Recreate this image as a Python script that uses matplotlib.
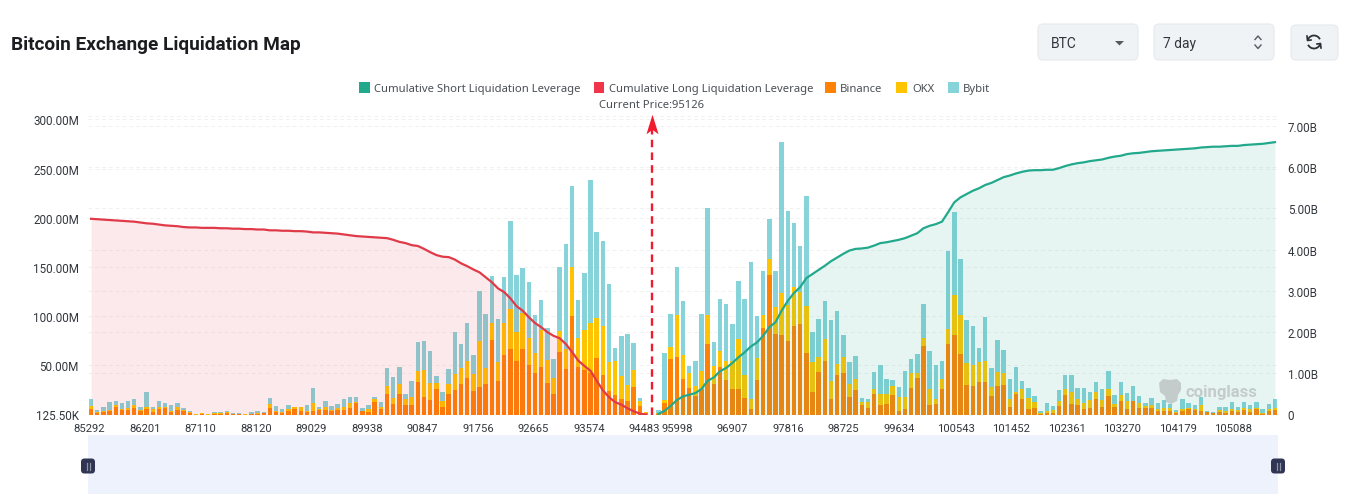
import numpy as np
import matplotlib
matplotlib.use("Agg")
import matplotlib.pyplot as plt
from matplotlib.patches import FancyBboxPatch, Rectangle, Polygon, Arc
from matplotlib.path import Path
from matplotlib.transforms import blended_transform_factory, ScaledTranslation

# Stack heights per price bucket, in millions of USD
binance = [
    5.4,2,2.7,3.4,7.8,4.4,4.7,6.8,3.4,5.4,2.7,6,6.8,2.7,5,3.4,1.4,.1,.7,.1,.7,.7,1.7,.3,.3,.1,.3,.7,1.4,7,
    2.7,2,3.4,5.4,3.4,2.7,3.7,4.7,4.7,4,4.7,4.4,7,11.5,3.4,2.7,12.9,5.4,21.4,11,21.4,9.5,10,33,17.6,15,26.4,7.5,20.7,24.7,
    31.5,37.6,24,28.5,30.8,76,34,61,67,55,66.4,50,42.4,48.8,32,21.4,64,46.4,100.7,48,45,42.4,58,40,23.7,20.3,15.6,13.9,28.5,8.8,
    1.4,0,1,12.2,57,58.6,36,27.5,18.6,26.5,71.5,31.5,48.5,35.6,26.5,25.8,17.3,5.4,35,88.5,142,81.7,80.7,75,90,92.5,63,23,43.4,55,
    15.6,40,42.7,17.6,25.4,9.5,6.8,21.4,9.5,11.2,19.7,3.7,5.4,27.5,37.6,69.5,9.5,10.5,26.4,72,81,61.7,30,28.8,33,33.6,19.3,28.8,30,8,
    21,16,5.4,6.4,.7,1.4,1.7,9,20,10.8,10,5.4,6.8,16,8,19,8,14,5.8,13.6,6.4,6.8,6.8,3.4,4,3.7,1.7,4,5.4,4.7,
    4,2.4,1.4,3,2,3.7,3,4.7,3,6,1,4,5,
]
okx_top = [
    8.5,2.7,3.4,4.4,9.5,6,6.8,10,4.4,7.8,5.4,7.5,7.8,4,7.5,4.4,2.7,.2,1.4,.2,1.4,1.4,2.7,.7,.7,.2,.7,2,2,11,
    3.4,2.7,5.4,7.8,7.5,4,12.2,5.4,8,5,6.8,8,12,12.9,4,6,15.6,7.8,28.8,17,31.5,15.6,18,44.7,45.4,32.5,32.5,13.6,31,41.4,
    47.8,55,41.4,75,47.5,93,53,93,107,83.7,103.7,78,63,85.8,55.6,37,84.7,67,150,77.6,85.8,93,98,90,53,55,39,29.8,45,13.6,
    2.7,0,2,14.6,68.8,101.7,61,42.7,29,44,101,49,65,55,55,77,40.7,16.3,57.6,101.7,158,109.5,124,111,130,124.8,110,53,58.6,77,
    34,51,58.6,31,36,13,13,26.4,20.7,20.7,28.8,17.6,17.6,42.7,42.7,78,26.4,15.6,36.6,87,122,101,52.5,50.8,53,54.6,28.5,43.7,42.4,16,
    23.4,26,17.3,13.2,1.7,3.4,4.4,14.2,26,22.7,16,11.9,15.3,23.4,15.3,26,10.5,20,13.6,14.2,11.5,9,10,5.8,6.4,6.8,3,5.4,6.8,5.8,
    10,3,2,4.4,3.7,5.8,4.7,6.8,5.4,6.8,1.7,5.4,6.8,
]
bybit_top = [
    16,5,7.8,12.9,13.9,12.2,13.6,15.6,7.8,23,8,13.9,12.2,9.5,12.2,6.8,4,.3,2,.3,3,2.4,4,1.7,1.7,.3,2.7,4,2.7,16.6,
    8.8,6,9.5,8,8,10,27,7.5,14,8.8,10.8,16,17.6,18.3,7,9.5,17.6,12.9,47.5,38,48.8,21.4,34.6,74,75,65,39.7,23,46.8,84,
    71.5,93.6,61,125.8,102,141,97.6,140,197,141.7,149.5,135,101.7,116,88,56.6,150,173,232,116,144,238.7,185.8,176,133,67.8,80,82,73,17,
    3,0,5,62.7,102.7,150,115,49,54,102,210,74,118,112.5,92.5,135.6,117.6,155.6,100,146.4,199,146,277,206.8,195,171.5,222,83.7,97.6,115,
    96,105.8,81,53.6,59.7,17,16.3,43.4,50.8,36.6,35.6,28.5,44.4,56.3,61.7,112.9,64.4,50.8,55,166,206,158,96,90.5,67.5,99,47.5,76,66,36.3,
    48.5,34.6,26.8,19,3.4,11.9,8.8,24.7,40,40,27.5,27.5,22.7,33.6,26,44.4,20,33,22.4,28.8,18.6,11.9,17,11.9,14.6,10.8,4.7,16,12,10,
    17.6,4,2.7,7.8,7.8,12.5,7.8,13,10,12.9,5.4,10.5,15.6,
]

# Cumulative leverage on each side of the current price, in billions of USD
long_cum = [
    4.75,4.74,4.73,4.72,4.71,4.70,4.69,4.68,4.66,4.64,4.63,4.61,4.59,4.58,4.57,4.55,4.54,4.54,4.53,4.53,
    4.53,4.52,4.52,4.51,4.51,4.50,4.50,4.49,4.49,4.47,4.47,4.46,4.46,4.45,4.45,4.44,4.42,4.42,4.41,4.40,
    4.39,4.37,4.35,4.33,4.32,4.31,4.30,4.29,4.28,4.24,4.19,4.16,4.11,4.09,4.02,3.94,3.87,3.83,3.82,3.76,
    3.67,3.60,3.52,3.45,3.33,3.21,3.06,2.97,2.82,2.63,2.52,2.36,2.22,2.12,2.00,1.91,1.85,1.71,1.52,1.31,
    1.18,1.06,.82,.59,.42,.30,.24,.15,.08,.02,0,
]
short_cum = [
    .01,.09,.21,.35,.44,.48,.52,.62,.82,.90,1.05,1.13,1.25,1.39,1.51,1.65,1.75,1.91,2.12,2.24,
    2.52,2.76,2.95,3.09,3.31,3.41,3.51,3.61,3.72,3.81,3.90,3.98,4.02,4.03,4.05,4.10,4.16,4.18,4.21,4.24,
    4.28,4.34,4.40,4.52,4.58,4.62,4.68,4.91,5.15,5.27,5.35,5.43,5.49,5.57,5.62,5.69,5.76,5.80,5.85,5.89,
    5.92,5.93,5.93,5.94,5.94,5.98,6.03,6.07,6.10,6.12,6.15,6.17,6.19,6.23,6.26,6.28,6.32,6.34,6.35,6.37,
    6.39,6.40,6.41,6.42,6.43,6.44,6.45,6.46,6.48,6.49,6.50,6.50,6.51,6.52,6.52,6.54,6.55,6.56,6.57,6.59,6.61,
]

tick_prices = ["85292","86201","87110","88120","89029","89938","90847","91756","92665","93574","94483",
               "95998","96907","97816","98725","99634","100543","101452","102361","103270","104179","105088"]
left_ticks = [0.1255, 50, 100, 150, 200, 250, 300]
left_labels = ["125.50K", "50.00M", "100.00M", "150.00M", "200.00M", "250.00M", "300.00M"]
right_ticks = [0, 1, 2, 3, 4, 5, 6, 7]
right_labels = ["0", "1.00B", "2.00B", "3.00B", "4.00B", "5.00B", "6.00B", "7.00B"]
current_price = 95126
current_slot = 91

ORANGE, YELLOW, TEAL = "#ff8205", "#ffc400", "#86d3d9"
RED, GREEN = "#e03a48", "#22a98c"
INK = "#33373d"
W, H = 1348, 502
UI_FONT = ["Roboto", "DejaVu Sans"]
LEGEND_FONT = ["Noto Sans", "DejaVu Sans"]

fig = plt.figure(figsize=(W / 100, H / 100), dpi=100, facecolor="white")
L, R, T, B = 88, 1278, 116.5, 415.5
ax = fig.add_axes([L / W, 1 - B / H, (R - L) / W, (B - T) / H])
ax2 = ax.twinx()
ax.set_zorder(1)
ax2.set_zorder(2)
for a in (ax, ax2):
    a.patch.set_visible(False)
    for s in a.spines.values():
        s.set_visible(False)

n = len(binance)
x = np.arange(n)
ax.set_xlim(-0.5, n - 0.5)
ax.set_ylim(0.1255, 304)
ax2.set_ylim(0, 7.257)

# Stacked exchange bars
bin_v, okx_t, byb_t = map(np.array, (binance, okx_top, bybit_top))
ax.bar(x, bin_v, width=0.72, color=ORANGE, linewidth=0, zorder=3)
ax.bar(x, okx_t - bin_v, bottom=bin_v, width=0.72, color=YELLOW, linewidth=0, zorder=3)
ax.bar(x, byb_t - okx_t, bottom=okx_t, width=0.72, color=TEAL, linewidth=0, zorder=3)

# Dashed grid for both value axes, kept behind the bars
grid_kw = dict(color="#f1f1f1", lw=0.7, ls=(0, (4, 3)), zorder=1)
for v in left_ticks[1:]:
    ax.axhline(v, **grid_kw)
blend = blended_transform_factory(ax.transAxes, ax2.transData)
for v in right_ticks[1:]:
    ax.plot([0, 1], [v, v], transform=blend, **grid_kw)
ax.plot([0, 1], [1, 1], transform=ax.transAxes, **grid_kw)

# Cumulative curves with their shaded areas, laid over the bars
x_long = x[:len(long_cum)]
x_short = x[-len(short_cum):]
ax2.fill_between(x_long, long_cum, 0, color="#e8384a", alpha=0.105, linewidth=0)
ax2.fill_between(x_short, short_cum, 0, color=GREEN, alpha=0.11, linewidth=0)
ax2.plot(x_long, long_cum, color=RED, lw=1.6, solid_joinstyle="round")
ax2.plot(x_short, short_cum, color=GREEN, lw=1.6, solid_joinstyle="round")

# Current price marker with a notched arrow head
ax2.plot([current_slot, current_slot], [0, 6.95], color="#f01c2e", lw=1.7, ls=(0, (3.2, 2.2)))
arrow_head = Path([(0, 1), (0.62, -1), (0, -0.55), (-0.62, -1), (0, 1)],
                  [Path.MOVETO, Path.LINETO, Path.LINETO, Path.LINETO, Path.CLOSEPOLY])
ax2.plot([current_slot], [7.05], marker=arrow_head, ms=14, color="#f01c2e", mew=0, clip_on=False)

tick_slots = list(range(0, 91, 9)) + list(range(95, 186, 9))
ax.set_xticks(tick_slots, tick_prices)
ax.set_yticks(left_ticks, left_labels)
ax2.set_yticks(right_ticks, right_labels)
ax.tick_params(axis="x", length=0, pad=6, labelsize=8.1, labelcolor=INK)
ax.tick_params(axis="y", length=0, pad=6.5, labelsize=8.4, labelcolor=INK)
ax2.tick_params(axis="y", length=0, pad=7, labelsize=8.4, labelcolor=INK)
for lab in ax.get_xticklabels() + ax.get_yticklabels() + ax2.get_yticklabels():
    lab.set_family(UI_FONT)
# Fine horizontal offsets for the price labels on each side of the gap
for i, lab in enumerate(ax.get_xticklabels()):
    px = -1.5 if i <= 10 else (1.5 if i >= 16 else 0)
    lab.set_transform(lab.get_transform() + ScaledTranslation(px / 100, 0, fig.dpi_scale_trans))

# Page furniture on a pixel-aligned overlay
ui = fig.add_axes([0, 0, 1, 1], zorder=5)
ui.set_xlim(0, W)
ui.set_ylim(H, 0)
ui.axis("off")

ui.text(11, 44.5, "Bitcoin Exchange Liquidation Map", fontsize=13.7, fontweight="bold",
        color="#1b1d21", va="center", family=UI_FONT)

def button(x0, x1, y0, y1):
    ui.add_patch(FancyBboxPatch((x0 + 4, y0 + 4), x1 - x0 - 8, y1 - y0 - 8,
                                boxstyle="round,pad=4,rounding_size=5",
                                fc="#f0f3f6", ec="#e6e9ed", lw=0.8))

button(1038, 1138, 25, 61)
button(1154, 1274, 25, 61)
button(1291, 1338, 26, 61)
ui.text(1051, 44, "BTC", fontsize=10, color=INK, va="center", family=UI_FONT)
ui.text(1163, 44, "7 day", fontsize=10, color=INK, va="center", family=UI_FONT)
ui.add_patch(Polygon([(1115, 42), (1124, 42), (1119.5, 46.5)], fc="#555a60", ec="none"))
ui.plot([1255, 1258, 1261], [40.5, 37, 40.5], color="#555a60", lw=1)
ui.plot([1255, 1258, 1261], [46, 49.5, 46], color="#555a60", lw=1)
ui.add_patch(Arc((1314, 43), 13, 13, theta1=195, theta2=335, color="#2d3136", lw=1.3))
ui.add_patch(Arc((1314, 43), 13, 13, theta1=15, theta2=155, color="#2d3136", lw=1.3))
ui.plot([1307, 1307.5, 1311], [37, 41.5, 41], color="#2d3136", lw=1.2)
ui.plot([1321, 1320.5, 1317], [49, 44.5, 45], color="#2d3136", lw=1.2)

legend_items = [
    (359, 374, GREEN, "Cumulative Short Liquidation Leverage"),
    (593.5, 609, "#f0344a", "Cumulative Long Liquidation Leverage"),
    (825, 840, ORANGE, "Binance"),
    (896, 912, YELLOW, "OKX"),
    (948, 963, TEAL, "Bybit"),
]
for sx, tx, col, name in legend_items:
    ui.add_patch(Rectangle((sx, 83), 10.5, 11, fc=col, ec="none"))
    ui.text(tx, 92, name, fontsize=8.1, color="#4a4f55", va="baseline", family=LEGEND_FONT)
ui.text(651.5, 108, f"Current Price:{current_price}", fontsize=8.1, color="#4a4f55",
        ha="center", va="baseline", family=LEGEND_FONT)

# Watermark
logo = Polygon([(1159, 384), (1163, 380), (1170, 381), (1177, 380), (1181, 384), (1181, 391),
                (1178, 396), (1177, 402), (1171, 405), (1166, 403), (1165, 397), (1160, 393)],
               fc="#c3c9c9", ec="none", alpha=0.95)
ui.add_patch(logo)
ui.text(1186, 392.5, "coinglass", fontsize=12, fontweight="bold", color="#c3c9c9",
        va="center", family=UI_FONT, alpha=0.95)

# Range slider
ui.add_patch(Rectangle((L, 436), R - L, 59, fc="#eef2fd", ec="none"))
for hx in (L, R):
    ui.add_patch(FancyBboxPatch((hx - 4.5, 462), 9, 10, boxstyle="round,pad=2.5,rounding_size=3.5",
                                fc="#2f3552", ec="none"))
    for dx in (-1.5, 1.5):
        ui.plot([hx + dx, hx + dx], [463.5, 470.5], color="#8e93a8", lw=0.9)

fig.savefig("out.png", dpi=100, facecolor="white")
